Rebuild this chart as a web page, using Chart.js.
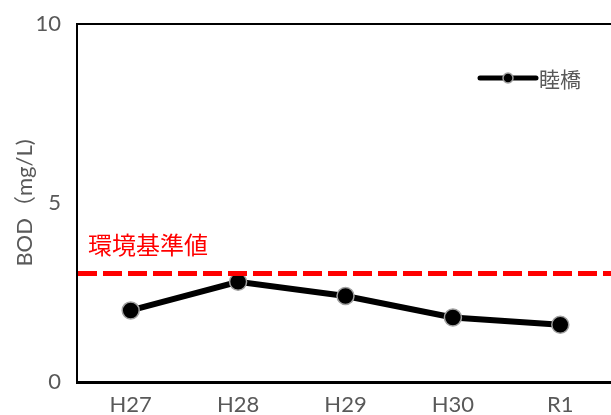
<!DOCTYPE html>
<html lang="ja">
<head>
<meta charset="utf-8">
<title>BOD 睦橋</title>
<script src="https://cdn.jsdelivr.net/npm/chart.js@4/dist/chart.umd.min.js"></script>
<style>
  html, body { margin: 0; padding: 0; background: #fff; overflow: hidden; }
  #wrap { position: relative; width: 624px; height: 415px; }
</style>
</head>
<body>
<div id="wrap"><canvas id="bodChart" width="624" height="415"></canvas></div>
<script>
// ── Data ─────────────────────────────────────────────────────────────────────
const YEARS = ["H27", "H28", "H29", "H30", "R1"];
const BOD_MUTSUMIBASHI = [2.0, 2.8, 2.4, 1.8, 1.6];
const STANDARD_VALUE = 3;
const SERIES_LABEL = "睦橋";
const STANDARD_LABEL = "環境基準値";
const Y_TITLE = "BOD（mg/L)";

const GRAY = "#595959";
const TICK_FONT = { family: "Lato, 'Noto Sans CJK JP', sans-serif", size: 22 };

// ── Plugins: frame, standard line, legend ────────────────────────────────────
const framePlugin = {
  id: "frame",
  afterDraw(chart) {
    const { ctx, chartArea: a } = chart;
    ctx.save();
    ctx.strokeStyle = "#000";
    ctx.lineWidth = 2;
    ctx.beginPath();
    ctx.moveTo(a.left, a.top);
    ctx.lineTo(a.right, a.top);
    ctx.stroke();
    ctx.restore();
  }
};

const standardPlugin = {
  id: "standardLine",
  afterDatasetsDraw(chart) {
    const { ctx, chartArea: a, scales } = chart;
    const y = scales.y.getPixelForValue(STANDARD_VALUE) - 1;
    ctx.save();
    ctx.strokeStyle = "#ff0000";
    ctx.lineWidth = 5;
    ctx.setLineDash([19, 6]);
    ctx.beginPath();
    ctx.moveTo(a.left + 1, y);
    ctx.lineTo(a.right, y);
    ctx.stroke();
    ctx.setLineDash([]);
    ctx.fillStyle = "#ff0000";
    ctx.font = "24px 'Noto Sans CJK JP', sans-serif";
    ctx.textBaseline = "middle";
    ctx.fillText(STANDARD_LABEL, a.left + 11, y - 29);
    ctx.restore();
  }
};

const legendPlugin = {
  id: "customLegend",
  afterDraw(chart) {
    const { ctx, chartArea: a } = chart;
    const x0 = a.left + 403, x1 = a.left + 459, y = 78;
    ctx.save();
    ctx.strokeStyle = "#000";
    ctx.lineWidth = 5;
    ctx.lineCap = "round";
    ctx.beginPath();
    ctx.moveTo(x0, y);
    ctx.lineTo(x1, y);
    ctx.stroke();
    ctx.beginPath();
    ctx.arc((x0 + x1) / 2, y, 5, 0, Math.PI * 2);
    ctx.fillStyle = "#000";
    ctx.fill();
    ctx.lineWidth = 1.5;
    ctx.strokeStyle = "#a0a0a0";
    ctx.stroke();
    ctx.fillStyle = GRAY;
    ctx.font = "21px 'Noto Sans CJK JP', sans-serif";
    ctx.textBaseline = "middle";
    ctx.fillText(SERIES_LABEL, x1 + 3, y + 1);
    ctx.restore();
  }
};

// ── Chart ────────────────────────────────────────────────────────────────────
new Chart(document.getElementById("bodChart"), {
  type: "line",
  data: {
    labels: YEARS,
    datasets: [{
      label: SERIES_LABEL,
      data: BOD_MUTSUMIBASHI,
      borderColor: "#000",
      borderWidth: 6,
      tension: 0,
      pointRadius: 8.5,
      pointBackgroundColor: "#000",
      pointBorderColor: "#a0a0a0",
      pointBorderWidth: 1.5,
    }]
  },
  options: {
    responsive: false,
    animation: false,
    layout: { padding: { top: 24, right: 6, left: 0, bottom: 0 } },
    plugins: {
      legend: { display: false },
      tooltip: { enabled: false }
    },
    scales: {
      x: {
        offset: true,
        grid: { display: false, drawTicks: false },
        border: { display: true, color: "#000", width: 3 },
        ticks: { color: GRAY, font: TICK_FONT, padding: 10, maxRotation: 0 },
        afterFit: s => { s.height = 33; s.paddingLeft = 0; s.paddingRight = 0; }
      },
      y: {
        min: 0,
        max: 10,
        grid: { display: false, drawTicks: false },
        border: { display: true, color: "#000", width: 2 },
        ticks: { stepSize: 5, color: GRAY, font: TICK_FONT, padding: 16 },
        title: {
          display: true,
          text: Y_TITLE,
          color: GRAY,
          font: { family: "Lato, 'Noto Sans CJK JP', sans-serif", size: 22 },
          padding: { top: 12, bottom: 0 }
        },
        afterFit: s => { s.width = 77; s.paddingTop = 0; s.paddingBottom = 0; }
      }
    }
  },
  plugins: [framePlugin, standardPlugin, legendPlugin]
});
</script>
</body>
</html>
